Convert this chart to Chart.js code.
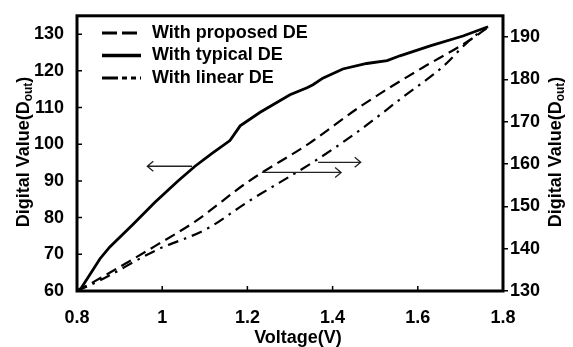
<!DOCTYPE html>
<html>
<head>
<meta charset="utf-8">
<script src="https://cdn.jsdelivr.net/npm/chart.js@4.4.1/dist/chart.umd.min.js"></script>
<style>
  html, body { margin: 0; padding: 0; background: #fff; }
  #wrap { width: 573px; height: 347px; }
</style>
</head>
<body>
<div id="wrap"><canvas id="myChart" width="573" height="347"></canvas></div>
<script>
'use strict';

// values
const typicalV = [0.80, 0.81, 0.854, 0.877, 0.93, 0.983, 1.037, 1.077, 1.117, 1.159, 1.183, 1.23, 1.30, 1.34, 1.354, 1.377, 1.424, 1.48, 1.528, 1.558, 1.629, 1.706, 1.765];
const typicalD = [60, 60.8, 68.8, 72, 78, 84.2, 90, 94, 97.5, 101, 105, 108.7, 113.5, 115.4, 116.2, 118, 120.5, 122, 122.8, 124.1, 126.8, 129.5, 132];

const proposedV = [0.80, 0.854, 0.983, 1.077, 1.20, 1.347, 1.464, 1.612, 1.692, 1.739, 1.765];
const proposedD = [130, 133, 140.6, 146.4, 155.7, 165, 173.5, 182.8, 187.4, 190.4, 192.3];

const linearV = [0.80, 0.854, 0.983, 1.107, 1.20, 1.363, 1.464, 1.565, 1.659, 1.715, 1.760];
const linearD = [130, 132.5, 139.5, 144.8, 151, 161, 168, 175.8, 183, 188.6, 192.3];

const xTicks = [0.8, 1, 1.2, 1.4, 1.6, 1.8];
const leftTicks = [60, 70, 80, 90, 100, 110, 120, 130];
const rightTicks = [130, 140, 150, 160, 170, 180, 190];

// arrows: [axis, fromV, toV, value]
const arrows = [
  ['yL', 1.07, 0.965, 94],
  ['yR', 1.234, 1.42, 158],
  ['yR', 1.366, 1.466, 160.4]
];

const FONT = "'Liberation Sans', Arial, sans-serif";

function pts(xs, ys) {
  return xs.map((x, i) => ({ x: x, y: ys[i] }));
}

function onlyTicks(list) {
  return function (scale) {
    scale.ticks = list.map(v => ({ value: v }));
  };
}

// rotated title with subscript, reading bottom to top
function sideTitle(ctx, cx, cy) {
  ctx.save();
  ctx.translate(cx, cy);
  ctx.rotate(-Math.PI / 2);
  const big = 'bold 18px ' + FONT, small = 'bold 12px ' + FONT;
  ctx.font = big;
  const a = 'Digital Value(D', c = ')';
  const wa = ctx.measureText(a).width, wc = ctx.measureText(c).width;
  ctx.font = small;
  const wb = ctx.measureText('out').width;
  let x = -(wa + wb + wc) / 2;
  ctx.fillStyle = '#000';
  ctx.textBaseline = 'middle';
  ctx.textAlign = 'left';
  ctx.font = big;
  ctx.fillText(a, x, 0); x += wa;
  ctx.font = small;
  ctx.fillText('out', x, 5); x += wb;
  ctx.font = big;
  ctx.fillText(c, x, 0);
  ctx.restore();
}

const decor = {
  id: 'decor',
  afterDraw(chart) {
    const ctx = chart.ctx, a = chart.chartArea;
    const sx = chart.scales.x, yl = chart.scales.yL;
    ctx.save();
    ctx.strokeStyle = '#000';

    // inner ticks on left and bottom
    ctx.lineWidth = 1.5;
    ctx.beginPath();
    leftTicks.forEach(v => {
      const y = yl.getPixelForValue(v);
      ctx.moveTo(a.left, y); ctx.lineTo(a.left + 5, y);
    });
    xTicks.forEach(v => {
      const x = sx.getPixelForValue(v);
      ctx.moveTo(x, a.bottom); ctx.lineTo(x, a.bottom - 5);
    });
    ctx.stroke();

    // frame
    ctx.lineWidth = 3;
    ctx.strokeRect(a.left, a.top, a.right - a.left, a.bottom - a.top);

    // arrows
    ctx.lineWidth = 1.3;
    ctx.strokeStyle = '#222';
    arrows.forEach(ar => {
      const ys = chart.scales[ar[0]];
      const y = ys.getPixelForValue(ar[3]);
      const x0 = sx.getPixelForValue(ar[1]), x1 = sx.getPixelForValue(ar[2]);
      const d = x1 > x0 ? -1 : 1;
      ctx.beginPath();
      ctx.moveTo(x0, y); ctx.lineTo(x1, y);
      ctx.moveTo(x1 + d * 6, y - 5); ctx.lineTo(x1, y); ctx.lineTo(x1 + d * 6, y + 5);
      ctx.stroke();
    });

    // legend
    ctx.strokeStyle = '#000';
    ctx.fillStyle = '#000';
    ctx.font = 'bold 18px ' + FONT;
    ctx.textBaseline = 'middle';
    ctx.textAlign = 'left';
    chart.data.datasets.forEach((ds, i) => {
      const y = 33 + i * 22.5;
      ctx.lineWidth = ds.legendWidth;
      ctx.setLineDash(ds.legendDash);
      ctx.beginPath();
      ctx.moveTo(102, y); ctx.lineTo(141, y);
      ctx.stroke();
      ctx.setLineDash([]);
      ctx.fillText(ds.label, 152, y);
    });

    // axis titles
    ctx.textAlign = 'center';
    ctx.fillText('Voltage(V)', (a.left + a.right) / 2 + 8, 338);
    ctx.restore();

    sideTitle(ctx, 24, 152);
    sideTitle(ctx, 556, 152);
  }
};

const context = document.getElementById('myChart').getContext('2d');

const chart = new Chart(context, {
  type: 'line',
  data: {
    datasets: [
      {
        label: 'With proposed DE',
        data: pts(proposedV, proposedD),
        yAxisID: 'yR',
        borderColor: '#000',
        borderWidth: 2.2,
        borderDash: [11, 6],
        cubicInterpolationMode: 'monotone',
        legendDash: [15, 5],
        legendWidth: 3
      },
      {
        label: 'With typical DE',
        data: pts(typicalV, typicalD),
        yAxisID: 'yL',
        borderColor: '#000',
        borderWidth: 2.8,
        borderDash: [],
        legendDash: [],
        legendWidth: 3.5
      },
      {
        label: 'With linear DE',
        data: pts(linearV, linearD),
        yAxisID: 'yR',
        borderColor: '#000',
        borderWidth: 2.2,
        borderDash: [11, 6, 2.5, 6],
        cubicInterpolationMode: 'monotone',
        legendDash: [16, 4, 5, 4, 5, 4],
        legendWidth: 3
      }
    ]
  },
  options: {
    responsive: false,
    animation: false,
    layout: { padding: { top: 10, left: 0, right: 0, bottom: 0 } },
    elements: { point: { radius: 0 }, line: { tension: 0, fill: false } },
    plugins: { legend: { display: false }, tooltip: { enabled: false } },
    scales: {
      x: {
        type: 'linear',
        min: 0.8, max: 1.8,
        afterBuildTicks: onlyTicks(xTicks),
        afterFit(s) { s.height = 56; },
        grid: { display: false },
        border: { display: false },
        ticks: {
          color: '#000', padding: 8,
          font: { family: FONT, size: 18, weight: 'bold' },
          callback: v => String(Number(v.toFixed(1)))
        }
      },
      yL: {
        type: 'linear', position: 'left',
        min: 60, max: 135,
        afterBuildTicks: onlyTicks(leftTicks),
        afterFit(s) { s.width = 77; },
        grid: { display: false },
        border: { display: false },
        ticks: { color: '#000', padding: 5, font: { family: FONT, size: 18, weight: 'bold' } }
      },
      yR: {
        type: 'linear', position: 'right',
        min: 130, max: 195,
        afterBuildTicks: onlyTicks(rightTicks),
        afterFit(s) { s.width = 70; },
        grid: { drawOnChartArea: false, tickLength: 5, color: '#000', lineWidth: 1.5 },
        border: { display: false },
        ticks: { color: '#000', padding: 2, font: { family: FONT, size: 18, weight: 'bold' } }
      }
    }
  },
  plugins: [decor]
});
</script>
</body>
</html>
